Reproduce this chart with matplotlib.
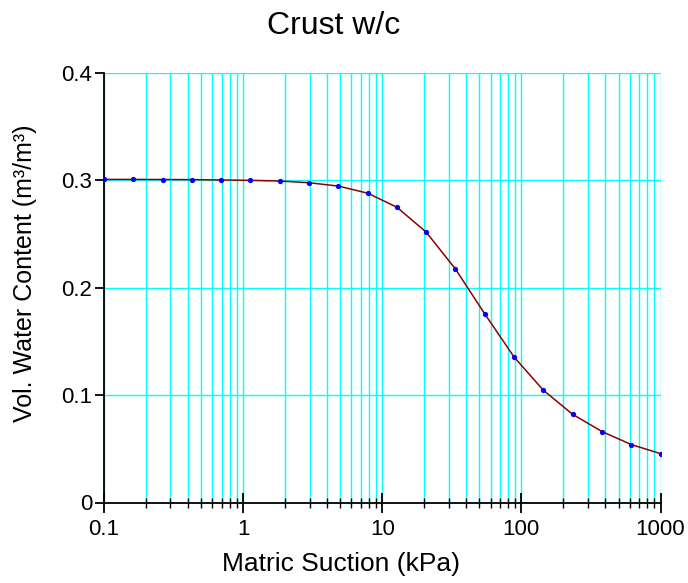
import numpy as np
import matplotlib
matplotlib.use('Agg')
from matplotlib import pyplot as plt
from matplotlib.ticker import LogLocator, NullFormatter, FixedLocator

plt.rcParams['font.family'] = ['Liberation Sans', 'DejaVu Sans']

# matric suction (kPa) and volumetric water content
suction = [0.1, 0.162, 0.264, 0.428, 0.695, 1.129, 1.833, 2.976, 4.833, 7.848,
           12.74, 20.69, 33.6, 54.6, 88.6, 143.8, 233.6, 379.3, 615.8, 1000]
vwc = [0.3009, 0.3009, 0.3008, 0.3007, 0.3004, 0.3000, 0.2994, 0.2978, 0.2947, 0.2881,
       0.2750, 0.2518, 0.2174, 0.1756, 0.1355, 0.1046, 0.0821, 0.0661, 0.0540, 0.0455]

x_ticks = [0.1, 1, 10, 100, 1000]
x_labels = ['0.1', '1', '10', '100', '1000']
y_ticks = [0, 0.1, 0.2, 0.3, 0.4]
y_labels = ['0', '0.1', '0.2', '0.3', '0.4']

fig = plt.figure(figsize=(6.88, 5.83), dpi=100)
ax = fig.add_axes([104 / 688, 1 - 502.5 / 583, 556.5 / 688, (502.5 - 73) / 583])

ax.plot(suction, vwc, color='#8b0000', lw=1.1, zorder=3)
ax.plot(suction, vwc, 'o', color='#0000ff', ms=3.8, mew=0, zorder=4)

ax.set_xscale('log')
ax.set_xlim(0.1, 1000)
ax.set_ylim(0, 0.4)

ax.xaxis.set_major_locator(FixedLocator(x_ticks))
ax.set_xticklabels(x_labels)
ax.xaxis.set_minor_locator(LogLocator(base=10, subs=np.arange(2, 10)))
ax.xaxis.set_minor_formatter(NullFormatter())
ax.set_yticks(y_ticks)
ax.set_yticklabels(y_labels)

ax.grid(True, which='both', axis='x', color='#00ffff', lw=1.0)
ax.grid(True, which='major', axis='y', color='#00ffff', lw=1.0)
ax.set_axisbelow(True)

for s in ['top', 'right']:
    ax.spines[s].set_visible(False)
ax.spines['left'].set_linewidth(1.3)
ax.spines['bottom'].set_linewidth(1.3)

ax.tick_params(axis='x', which='major', direction='inout', length=14.5, width=1.3,
               labelsize=16, pad=4.5)
ax.tick_params(axis='x', which='minor', direction='inout', length=7, width=1.0)
ax.tick_params(axis='y', which='major', direction='out', length=6.5, width=1.3,
               labelsize=16, pad=2)

fig.text(333.5 / 688, 1 - 26 / 583, 'Crust w/c', ha='center', va='center', fontsize=23)
fig.text(341 / 688, 1 - 564 / 583, 'Matric Suction (kPa)', ha='center', va='center', fontsize=19)
fig.text(25 / 688, 1 - 273 / 583, 'Vol. Water Content (m³/m³)', ha='center', va='center',
         fontsize=18, rotation=90)

plt.savefig('out.png', dpi=100)
